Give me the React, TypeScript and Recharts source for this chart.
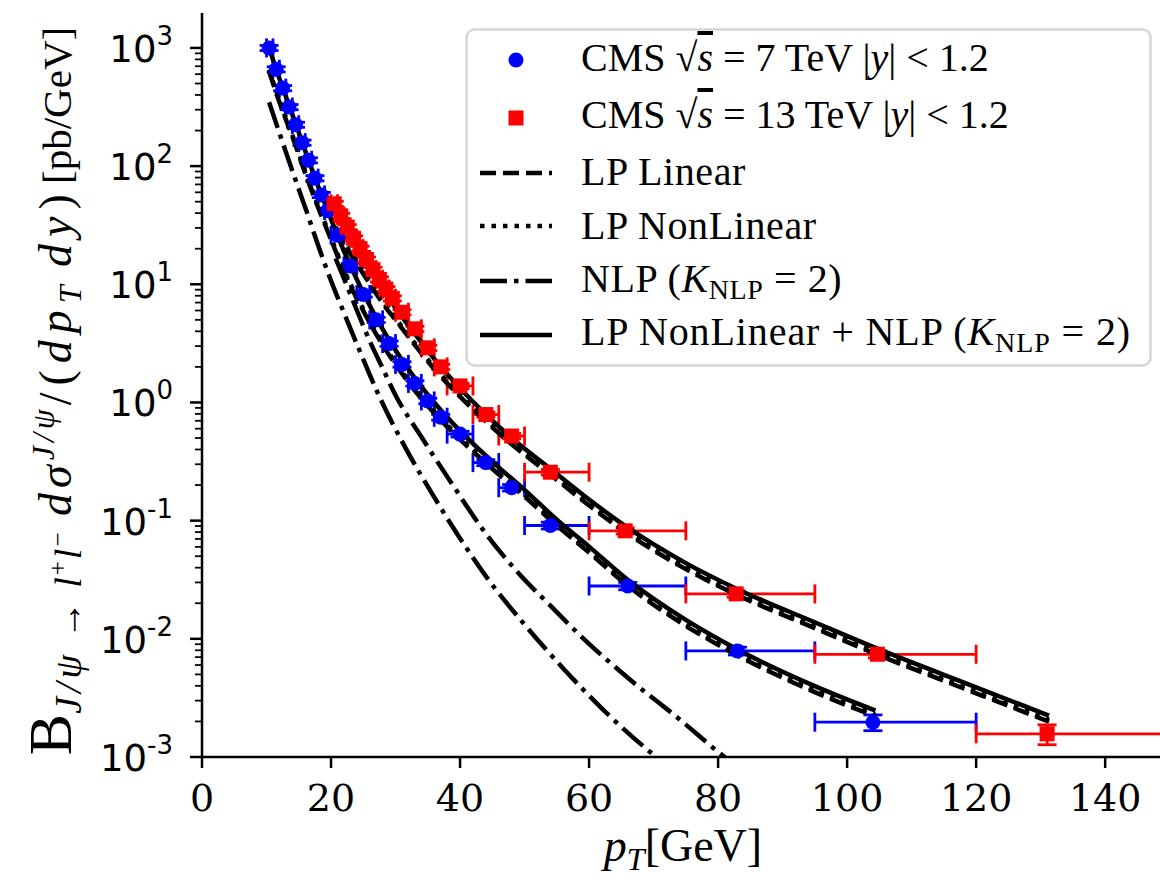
import React from 'react';
import { ComposedChart, Scatter, Line, XAxis, YAxis, ErrorBar, Legend } from 'recharts';

// ---------------- data: CMS 7 TeV |y|<1.2 ----------------
const pt7 = [10.4, 11.5, 12.5, 13.5, 14.5, 15.5, 16.5, 17.5, 18.5, 19.5, 21, 23, 25, 27, 29, 31, 33, 35, 37, 40, 44, 48, 54, 66, 83, 104];
const val7 = [1000, 660, 457, 316, 224, 158, 112, 79, 57, 42, 26, 14.3, 8.2, 5.0, 3.15, 2.1, 1.45, 1.03, 0.75, 0.54, 0.31, 0.19, 0.091, 0.028, 0.0079, 0.00197];
const xErr7 = [[0.4, 0.6], [0.5, 0.5], [0.5, 0.5], [0.5, 0.5], [0.5, 0.5], [0.5, 0.5], [0.5, 0.5], [0.5, 0.5], [0.5, 0.5], [0.5, 0.5],
  [1, 1], [1, 1], [1, 1], [1, 1], [1, 1], [1, 1], [1, 1], [1, 1], [1, 1], [2, 2], [2, 2], [2, 2], [4, 6], [6, 9], [8, 12], [9, 16]];
const yErr7 = [50, 33, 23, 16, 11, 8, 5.6, 4, 2.9, 2.1, 1.3, 0.7, 0.4, 0.25, 0.16, 0.11, 0.075, 0.055, 0.042, 0.03, 0.018, 0.012, 0.006, 0.002, 0.0006, 0.0003];

// ---------------- data: CMS 13 TeV |y|<1.2 ----------------
const pt13 = [20.5, 21.5, 22.5, 23.5, 24.5, 25.5, 26.5, 27.5, 28.5, 29.5, 31, 33, 35, 37, 40, 44, 48, 54, 65.6, 82.8, 104.7, 131];
const val13 = [48, 38, 30.5, 24.5, 20, 16.2, 13.3, 11, 9.1, 7.6, 5.8, 4.2, 2.9, 2.0, 1.38, 0.79, 0.52, 0.257, 0.082, 0.024, 0.0074, 0.00157];
const xErr13 = [[0.5, 0.5], [0.5, 0.5], [0.5, 0.5], [0.5, 0.5], [0.5, 0.5], [0.5, 0.5], [0.5, 0.5], [0.5, 0.5], [0.5, 0.5], [0.5, 0.5],
  [1, 1], [1, 1], [1, 1], [1, 1], [2, 2], [2, 2], [2, 2], [4, 6], [5.6, 9.4], [7.8, 12.2], [9.7, 15.3], [11, 19]];
const yErr13 = [2.4, 1.9, 1.5, 1.2, 1.0, 0.8, 0.65, 0.55, 0.45, 0.38, 0.29, 0.21, 0.15, 0.1, 0.07, 0.04, 0.027, 0.014, 0.005, 0.0015, 0.0005, 0.0003];

// ---------------- theory curves, 7 TeV ----------------
const cpt7 = [10.4, 12, 14, 16, 18, 20, 22, 25, 28, 32, 36, 40, 45, 50, 55, 60, 66, 75, 83, 95, 104.4];
const total7 = [1000, 550, 275, 135, 67.6, 35.5, 19.1, 8.5, 4.17, 1.91, 1.0, 0.575, 0.316, 0.182, 0.102, 0.0603, 0.0316, 0.01445, 0.00813, 0.00398, 0.00247];
const lpNonLin7 = [653, 360, 184, 90.2, 46.2, 24.8, 13.3, 6.18, 3.18, 1.53, 0.842, 0.504, 0.285, 0.166, 0.094, 0.0555, 0.0291, 0.0133, 0.00748, 0.00366, 0.00227];
const lpLin7 = [630, 347, 178, 87, 44.6, 23.9, 12.8, 5.96, 3.07, 1.48, 0.81, 0.486, 0.275, 0.16, 0.091, 0.0537, 0.0281, 0.01286, 0.00724, 0.00354, 0.0022];
const npt7 = [10.4, 12, 14, 16, 18, 20, 22, 24.5, 27.5, 31.5, 36, 40, 44, 50, 56, 62, 70.4, 72];
const nlp7 = [347, 190.5, 91.2, 44.7, 21.4, 10.7, 5.75, 2.69, 1.12, 0.417, 0.158, 0.0708, 0.0339, 0.0132, 0.00562, 0.00257, 0.001, 0.00085];

// ---------------- theory curves, 13 TeV ----------------
const cpt13 = [20.7, 22, 24, 26, 28, 30, 33, 36, 40, 44, 48, 54, 60, 66, 75, 83, 95, 105, 120, 131.3];
const total13 = [47.3, 33.9, 21.4, 13.8, 9.12, 6.31, 3.8, 2.34, 1.32, 0.794, 0.501, 0.275, 0.151, 0.0871, 0.0437, 0.0263, 0.0138, 0.00813, 0.00389, 0.00224];
const lpNonLin13 = [30.7, 22.7, 15.4, 10.5, 7.17, 5.16, 3.17, 1.99, 1.16, 0.716, 0.459, 0.253, 0.139, 0.0801, 0.0402, 0.0242, 0.0127, 0.00748, 0.00358, 0.00206];
const lpLin13 = [29.6, 21.9, 14.9, 10.1, 6.92, 4.98, 3.06, 1.92, 1.12, 0.691, 0.443, 0.245, 0.1345, 0.0775, 0.0389, 0.0234, 0.0123, 0.00724, 0.00346, 0.00199];
const npt13 = [20.7, 22, 24, 26, 28, 30, 34, 39, 44, 49, 54, 59, 66, 74, 81, 83];
const nlp13 = [16.6, 11.2, 6.03, 3.31, 1.95, 1.15, 0.513, 0.195, 0.0776, 0.0363, 0.0191, 0.0102, 0.00468, 0.00209, 0.001, 0.00083];

// ---------------- axes ----------------
const xTicks = [0, 20, 40, 60, 80, 100, 120, 140];
const yMajor = [0.001, 0.01, 0.1, 1, 10, 100, 1000];
const yMajorExp = ['-3', '-2', '-1', '0', '1', '2', '3'];
const yMinorMult = [2, 3, 4, 5, 6, 7, 8, 9];

const yTicks: number[] = [];
yMajor.forEach((m, i) => {
  yTicks.push(m);
  if (i < yMajor.length - 1) yMinorMult.forEach((k) => yTicks.push(+(m * k).toPrecision(6)));
});

const pts = (xs: number[], ys: number[]) => xs.map((x, i) => ({ x, y: ys[i] }));
const pts7 = pt7.map((x, i) => ({ x, y: val7[i], ex: xErr7[i], ey: yErr7[i] }));
const pts13 = pt13.map((x, i) => ({ x, y: val13[i], ex: xErr13[i], ey: yErr13[i] }));

const BLUE = '#0000ff';
const RED = '#ff0000';
const LW = 4.5;
const DASH = '16 7';
const DOT = '4.5 7';
const DASHDOT = '27 7 4.5 7';
const EW = 2.8;
const CAP = 9.5;

const XTick = (props: any) => {
  const { x, y, payload } = props;
  return (
    <g>
      <line x1={x} x2={x} y1={y} y2={y + 11} stroke="#000" strokeWidth={2.5} />
      <text x={x} y={y + 54} textAnchor="middle" fontFamily="DejaVu Serif" fontSize={38} fill="#000">
        {payload.value}
      </text>
    </g>
  );
};

const YTick = (props: any) => {
  const { x, y, payload } = props;
  const v = payload.value;
  const idx = yMajor.findIndex((m) => Math.abs(m - v) / m < 1e-6);
  if (idx < 0) {
    return <line x1={x - 7} x2={x} y1={y} y2={y} stroke="#000" strokeWidth={1.8} />;
  }
  return (
    <g>
      <line x1={x - 12} x2={x} y1={y} y2={y} stroke="#000" strokeWidth={2.5} />
      <text x={x - 29} y={y + 14} textAnchor="end" fontFamily="DejaVu Sans" fontSize={37} fill="#000">
        10<tspan fontSize={26} dy={-17}>{yMajorExp[idx]}</tspan>
      </text>
    </g>
  );
};

const XLabel = () => (
  <text x={683} y={861} textAnchor="middle" fontFamily="Liberation Serif" fontSize={46} fill="#000">
    <tspan fontStyle="italic">p</tspan>
    <tspan fontStyle="italic" fontSize={32} dy={9}>T</tspan>
    <tspan dy={-9}>[GeV]</tspan>
  </text>
);

const YLabel = () => (
  <text x={71} y={391} transform="rotate(-90 71 391)" textAnchor="middle" fontFamily="Liberation Serif" fontSize={40} fill="#000">
    <tspan fontSize={62}>B</tspan>
    <tspan fontSize={38} fontStyle="italic" dy={10} letterSpacing={4}>J/ψ</tspan>
    <tspan fontSize={38} letterSpacing={2}>{' → '}</tspan>
    <tspan fontSize={38} fontStyle="italic" letterSpacing={2}>l</tspan>
    <tspan fontSize={25} dy={-15} letterSpacing={2}>+</tspan>
    <tspan fontSize={38} fontStyle="italic" dy={15} letterSpacing={2}>l</tspan>
    <tspan fontSize={25} dy={-15}>−</tspan>
    <tspan fontSize={46} fontStyle="italic" dy={5} letterSpacing={5}>{'   dσ'}</tspan>
    <tspan fontSize={32} fontStyle="italic" dy={-17} letterSpacing={4}>J/ψ</tspan>
    <tspan fontSize={46} dy={17} letterSpacing={7}>/(</tspan>
    <tspan fontSize={46} fontStyle="italic" letterSpacing={7}>dp</tspan>
    <tspan fontSize={32} fontStyle="italic" dy={10}>T</tspan>
    <tspan fontSize={46} fontStyle="italic" dy={-10} letterSpacing={7}>{' dy'}</tspan>
    <tspan fontSize={46}>)</tspan>
    <tspan fontSize={41}>{'  [pb/GeV]'}</tspan>
  </text>
);

const LegendBox = () => {
  const tx = 116;
  const base = [43, 100, 157, 211, 264, 317];
  const ly = [145, 198, 253, 307];
  const font = { fontFamily: 'Liberation Serif', fontSize: 40, fill: '#000' };
  return (
    <svg width={690} height={342} style={{ display: 'block' }}>
      <rect x={1.5} y={1.5} width={684} height={336} rx={8} fill="#fff" fillOpacity={0.8} stroke="#d6d6d6" strokeWidth={2.5} />
      <circle cx={51} cy={32} r={7.5} fill={BLUE} />
      <rect x={43.5} y={82.5} width={15} height={15} fill={RED} />
      <line x1={15} x2={87} y1={ly[0]} y2={ly[0]} stroke="#000" strokeWidth={LW} strokeDasharray={DASH} />
      <line x1={15} x2={87} y1={ly[1]} y2={ly[1]} stroke="#000" strokeWidth={LW} strokeDasharray={DOT} />
      <line x1={15} x2={87} y1={ly[2]} y2={ly[2]} stroke="#000" strokeWidth={LW} strokeDasharray={DASHDOT} />
      <line x1={15} x2={87} y1={ly[3]} y2={ly[3]} stroke="#000" strokeWidth={LW} />
      <text x={tx} y={base[0]} {...font}>
        CMS √<tspan fontStyle="italic" style={{ textDecoration: 'overline' }}>s</tspan> = 7 TeV |<tspan fontStyle="italic">y</tspan>| {'<'} 1.2
      </text>
      <text x={tx} y={base[1]} {...font}>
        CMS √<tspan fontStyle="italic" style={{ textDecoration: 'overline' }}>s</tspan> = 13 TeV |<tspan fontStyle="italic">y</tspan>| {'<'} 1.2
      </text>
      <text x={tx} y={base[2]} {...font} letterSpacing={0.6}>LP Linear</text>
      <text x={tx} y={base[3]} {...font} letterSpacing={0.6}>LP NonLinear</text>
      <text x={tx} y={base[4]} {...font} letterSpacing={0.6}>
        NLP (<tspan fontStyle="italic">K</tspan><tspan fontSize={28} dy={7}>NLP</tspan><tspan dy={-7}> = 2)</tspan>
      </text>
      <text x={tx} y={base[5]} {...font} letterSpacing={0.9}>
        LP NonLinear + NLP (<tspan fontStyle="italic">K</tspan><tspan fontSize={28} dy={7}>NLP</tspan><tspan dy={-7}> = 2)</tspan>
      </text>
    </svg>
  );
};

const Circle = (p: any) => <circle cx={p.cx} cy={p.cy} r={7.5} fill={BLUE} />;
const Square = (p: any) => <rect x={p.cx - 7.5} y={p.cy - 7.5} width={15} height={15} fill={RED} />;

export default function App() {
  return (
    <div style={{ position: 'absolute', left: 0, top: 0, width: 1160, height: 883, background: '#fff' }}>
      <ComposedChart width={1160} height={883} margin={{ top: 13, right: 0, bottom: 0, left: 0 }}>
        <XAxis
          xAxisId={0}
          type="number"
          dataKey="x"
          domain={[0, 148.5]}
          allowDataOverflow
          ticks={xTicks}
          interval={0}
          height={126}
          tickSize={0}
          tickMargin={0}
          tickLine={false}
          tick={<XTick />}
          axisLine={{ stroke: '#000', strokeWidth: 2.5 }}
          label={<XLabel />}
        />
        <XAxis
          xAxisId="top"
          orientation="top"
          type="number"
          domain={[0, 148.5]}
          allowDataOverflow
          height={0}
          tick={false}
          tickLine={false}
          axisLine={{ stroke: '#000', strokeWidth: 2.5 }}
        />
        <YAxis
          type="number"
          dataKey="y"
          scale="log"
          domain={[0.001, 1975]}
          allowDataOverflow
          ticks={yTicks}
          interval={0}
          width={202}
          tickSize={0}
          tickMargin={0}
          tickLine={false}
          tick={<YTick />}
          axisLine={{ stroke: '#000', strokeWidth: 2.5 }}
          label={<YLabel />}
        />
        <Legend
          layout="vertical"
          align="center"
          verticalAlign="middle"
          content={() => <LegendBox />}
          wrapperStyle={{ position: 'absolute', left: 465, top: 28, width: 690, height: 342 }}
        />
        <Scatter data={pts7} dataKey="y" shape={<Circle />} isAnimationActive={false} legendType="none">
          <ErrorBar dataKey="ex" direction="x" width={CAP} stroke={BLUE} strokeWidth={EW} />
          <ErrorBar dataKey="ey" direction="y" width={CAP} stroke={BLUE} strokeWidth={EW} />
        </Scatter>
        <Scatter data={pts13} dataKey="y" shape={<Square />} isAnimationActive={false} legendType="none">
          <ErrorBar dataKey="ex" direction="x" width={CAP} stroke={RED} strokeWidth={EW} />
          <ErrorBar dataKey="ey" direction="y" width={CAP} stroke={RED} strokeWidth={EW} />
        </Scatter>
        <Line data={pts(cpt7, lpLin7)} dataKey="y" type="monotone" stroke="#000" strokeWidth={LW} strokeDasharray={DASH} dot={false} isAnimationActive={false} legendType="none" />
        <Line data={pts(cpt7, lpNonLin7)} dataKey="y" type="monotone" stroke="#000" strokeWidth={LW} strokeDasharray={DOT} dot={false} isAnimationActive={false} legendType="none" />
        <Line data={pts(npt7, nlp7)} dataKey="y" type="monotone" stroke="#000" strokeWidth={LW} strokeDasharray={DASHDOT} dot={false} isAnimationActive={false} legendType="none" />
        <Line data={pts(cpt7, total7)} dataKey="y" type="monotone" stroke="#000" strokeWidth={LW} dot={false} isAnimationActive={false} legendType="none" />
        <Line data={pts(cpt13, lpLin13)} dataKey="y" type="monotone" stroke="#000" strokeWidth={LW} strokeDasharray={DASH} dot={false} isAnimationActive={false} legendType="none" />
        <Line data={pts(cpt13, lpNonLin13)} dataKey="y" type="monotone" stroke="#000" strokeWidth={LW} strokeDasharray={DOT} dot={false} isAnimationActive={false} legendType="none" />
        <Line data={pts(npt13, nlp13)} dataKey="y" type="monotone" stroke="#000" strokeWidth={LW} strokeDasharray={DASHDOT} dot={false} isAnimationActive={false} legendType="none" />
        <Line data={pts(cpt13, total13)} dataKey="y" type="monotone" stroke="#000" strokeWidth={LW} dot={false} isAnimationActive={false} legendType="none" />
      </ComposedChart>
    </div>
  );
}
